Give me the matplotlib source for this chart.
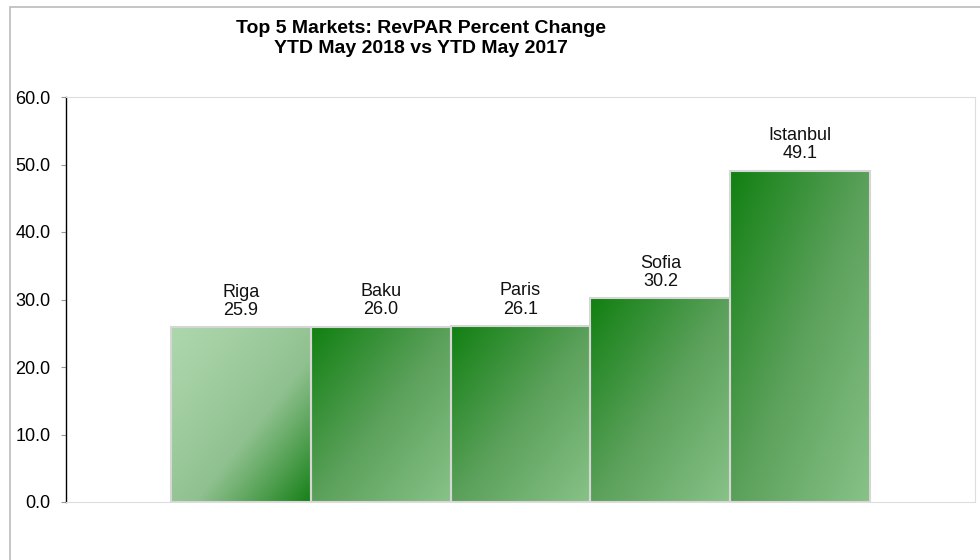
import matplotlib
matplotlib.use("Agg")
import matplotlib.pyplot as plt
import numpy as np
from matplotlib.colors import LinearSegmentedColormap
from matplotlib.patches import Rectangle

# data
markets = ["Riga", "Baku", "Paris", "Sofia", "Istanbul"]
revpar_change = [25.9, 26.0, 26.1, 30.2, 49.1]
yticks = [0, 10, 20, 30, 40, 50, 60]
title_lines = ["Top 5 Markets: RevPAR Percent Change", "YTD May 2018 vs YTD May 2017"]

plt.rcParams['font.family'] = ['Liberation Sans', 'DejaVu Sans']

fig = plt.figure(figsize=(9.8, 5.6), dpi=100)
ax = fig.add_axes([66/980, 58/560, 909/980, 405/560])

# gradient colormaps
dark_to_light = LinearSegmentedColormap.from_list("dl", ["#118011", "#5aa05a", "#88c288"])
light_to_dark = LinearSegmentedColormap.from_list("ld", ["#acd6ac", "#8fc08f", "#168016"])

# diagonal gradient, top-left -> bottom-right
u = np.linspace(0, 1, 200)
gx, gy = np.meshgrid(u, u)
grad = (gx + gy) / 2

x = np.arange(len(markets))
bars = ax.bar(x, revpar_change, width=1.0, color="none", edgecolor="#d6d6d6", linewidth=1.5, zorder=3)

for i, (b, v) in enumerate(zip(bars, revpar_change)):
    cmap = light_to_dark if i == 0 else dark_to_light
    g = grad ** 1.3 if i == 0 else grad
    im = ax.imshow(g, cmap=cmap, extent=(i - 0.5, i + 0.5, 0, v), origin="upper",
                   aspect="auto", zorder=2, interpolation="bilinear")
    im.set_clip_path(b)
    ax.text(i, v + 1.2, f"{markets[i]}\n{v:.1f}", ha="center", va="bottom",
            fontsize=13, linespacing=1.1, color="#111111", zorder=4)

ax.set_xlim(-1.25, 5.25)
ax.set_ylim(0, 60)
ax.set_yticks(yticks)
ax.set_yticklabels([f"{t:.1f}" for t in yticks], fontsize=13)
ax.set_xticks([])
ax.tick_params(axis="y", direction="out", length=3.6, color="#999999", width=0.8, pad=7.4)

ax.spines["left"].set_color("black")
ax.spines["left"].set_linewidth(1.0)
for s in ["top", "right", "bottom"]:
    ax.spines[s].set_color("#dddddd")
    ax.spines[s].set_linestyle((0, (2, 1)))
    ax.spines[s].set_linewidth(0.8)

# title, two lines
fig.text(421/980, 1 - 33/560, title_lines[0], ha="center", va="baseline", fontsize=14, fontweight="bold")
fig.text(421/980, 1 - 53/560, title_lines[1], ha="center", va="baseline", fontsize=14, fontweight="bold")

# outer chart border (only top & left visible)
fig.patches.append(Rectangle((9.5/980, -0.1), 1.2, (560 - 6.5)/560 + 0.1, transform=fig.transFigure,
                             fill=False, edgecolor="#bbbbbb", linewidth=1.2))

fig.savefig("out.png", dpi=100)
